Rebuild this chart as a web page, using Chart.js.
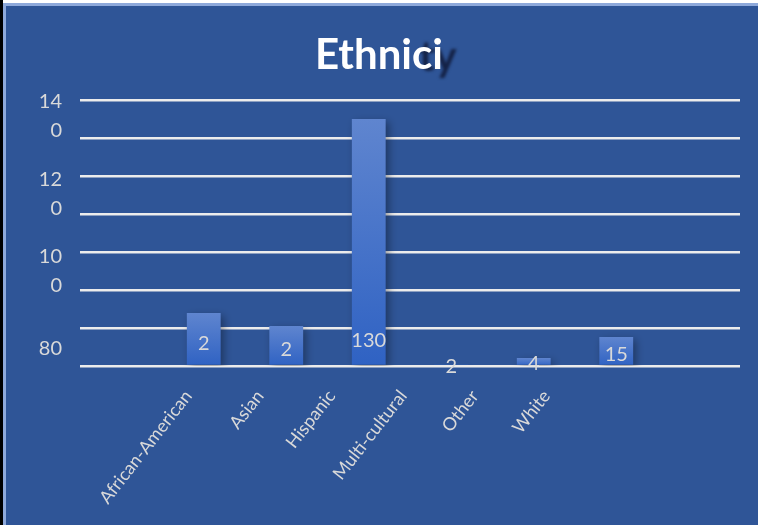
<!DOCTYPE html>
<html>
<head>
<meta charset="utf-8">
<script src="https://cdn.jsdelivr.net/npm/chart.js@4/dist/chart.umd.min.js"></script>
<style>
  html, body { margin: 0; padding: 0; background: #2F5597; }
  #wrap { width: 758px; height: 525px; position: relative; }
</style>
</head>
<body>
<div id="wrap"><canvas id="c" width="758" height="525"></canvas></div>
<script>
// ---- data ----
const titleText = "Ethnici";
const titleGhost = "ty";
const categories = ["African-American", "Asian", "Hispanic", "Multi-cultural", "Other", "White"];
const barValues = [27.9, 21, 130, 0.5, 4.2, 15.3];          // bar heights as drawn
const valueLabels = ["2", "2", "130", "2", "4", "15"];       // numbers printed on the bars
const gridTicks = [0, 20, 40, 60, 80, 100, 120, 140];        // gridline values
const axisLabelValues = [80, 100, 120, 140];                 // y labels shown

const slots = [""].concat(categories, [""]);
const slotData = [null].concat(barValues, [null]);

const FONT = "Lato, 'Open Sans', sans-serif";
const TXT = "#D9D9D9";
const TITLE_SIZE = 42;

const framePlugin = {
  id: 'frame',
  beforeDraw(chart) {
    const ctx = chart.ctx;
    ctx.save();
    ctx.fillStyle = '#2F5597';
    ctx.fillRect(0, 0, chart.width, chart.height);
    ctx.fillStyle = '#FFFFFF';
    ctx.fillRect(0, 0, chart.width, 3);
    ctx.fillStyle = '#8EA9DB';
    ctx.fillRect(3, 3, chart.width - 3, 3);
    ctx.fillRect(3, 3, 3, chart.height - 3);
    ctx.fillStyle = '#000000';
    ctx.fillRect(0, 0, 3, chart.height);
    // faint dark remnant of the clipped title
    ctx.font = 'bold ' + TITLE_SIZE + 'px ' + FONT;
    const w = ctx.measureText(titleText).width;
    ctx.filter = 'blur(1.5px)';
    ctx.fillStyle = 'rgba(15,25,55,0.85)';
    ctx.textBaseline = 'middle';
    ctx.textAlign = 'left';
    ctx.fillText(titleGhost, chart.width / 2 + w / 2 - 24, 57);
    ctx.restore();
  }
};

const shadowPlugin = {
  id: 'barShadow',
  beforeDatasetsDraw(chart) {
    const ctx = chart.ctx;
    ctx.save();
    ctx.shadowColor = 'rgba(0,0,0,0.35)';
    ctx.shadowBlur = 8;
    ctx.shadowOffsetX = 3;
    ctx.shadowOffsetY = 3;
  },
  afterDatasetsDraw(chart) {
    chart.ctx.restore();
  }
};

const labelPlugin = {
  id: 'valueLabels',
  afterDatasetsDraw(chart) {
    const ctx = chart.ctx;
    const meta = chart.getDatasetMeta(0);
    ctx.save();
    ctx.font = "20px " + FONT;
    ctx.fillStyle = TXT;
    ctx.textAlign = 'center';
    ctx.textBaseline = 'middle';
    meta.data.forEach((el, i) => {
      const idx = i - 1;
      if (idx < 0 || idx >= valueLabels.length) return;
      const top = el.y, base = el.base;
      const y = Math.max(base - 26, top + 0.55 * (base - top)) + 2;
      ctx.fillText(valueLabels[idx], el.x, y);
    });
    ctx.restore();
  }
};

new Chart(document.getElementById('c'), {
  type: 'bar',
  data: {
    labels: slots,
    datasets: [{
      data: slotData,
      barPercentage: 0.41,
      categoryPercentage: 1,
      borderWidth: 0,
      backgroundColor(context) {
        const chart = context.chart;
        const v = context.raw;
        if (v == null || !chart.chartArea) return '#3F6FC8';
        const ys = chart.scales.y;
        const top = ys.getPixelForValue(v);
        const base = ys.getPixelForValue(0);
        if (base - top < 1) return '#3364C4';
        const g = chart.ctx.createLinearGradient(0, top, 0, base);
        g.addColorStop(0, '#5F85CF');
        g.addColorStop(1, '#2F62C3');
        return g;
      }
    }]
  },
  options: {
    responsive: false,
    animation: false,
    devicePixelRatio: 1,
    layout: { padding: { left: 18, right: 18, top: 0, bottom: 0 } },
    plugins: {
      legend: { display: false },
      tooltip: { enabled: false },
      title: {
        display: true,
        text: titleText,
        color: '#FFFFFF',
        font: { family: FONT, size: TITLE_SIZE, weight: 'bold', lineHeight: 1.2 },
        padding: { top: 30, bottom: 19.6 }
      }
    },
    scales: {
      x: {
        type: 'category',
        position: 'bottom',
        grid: { display: false },
        border: { display: false },
        ticks: { display: false },
        afterFit(s) { s.height = 0; }
      },
      x2: {
        type: 'linear',
        position: 'bottom',
        min: -0.746,
        max: 6.934,
        bounds: 'data',
        grid: { display: false, drawTicks: false },
        border: { display: false },
        afterBuildTicks(s) { s.ticks = categories.map((c, i) => ({ value: i })); },
        ticks: {
          autoSkip: false,
          minRotation: 52,
          maxRotation: 52,
          padding: 20,
          color: TXT,
          font: { family: FONT, size: 18 },
          callback: (v) => categories[v] || ''
        },
        afterFit(s) { s.height = 159; }
      },
      y: {
        type: 'linear',
        position: 'left',
        min: 0,
        max: 140,
        afterBuildTicks(s) { s.ticks = gridTicks.map(v => ({ value: v })); },
        grid: { color: '#ECECEC', lineWidth: 2.5, drawTicks: false },
        border: { display: false },
        ticks: { display: false },
        afterFit(s) { s.width = 0; }
      },
      y2: {
        type: 'linear',
        position: 'left',
        min: 75.6,
        max: 144.1,
        bounds: 'data',
        grid: { display: false, drawTicks: false },
        border: { display: false },
        afterBuildTicks(s) { s.ticks = axisLabelValues.map(v => ({ value: v })); },
        ticks: {
          padding: 18,
          color: TXT,
          font: { family: FONT, size: 20, lineHeight: 1.45 },
          callback: (v) => v >= 100 ? [String(v).slice(0, 2), String(v).slice(2)] : String(v)
        },
        afterFit(s) { s.width = 62; }
      }
    }
  },
  plugins: [framePlugin, shadowPlugin, labelPlugin]
});
</script>
</body>
</html>
